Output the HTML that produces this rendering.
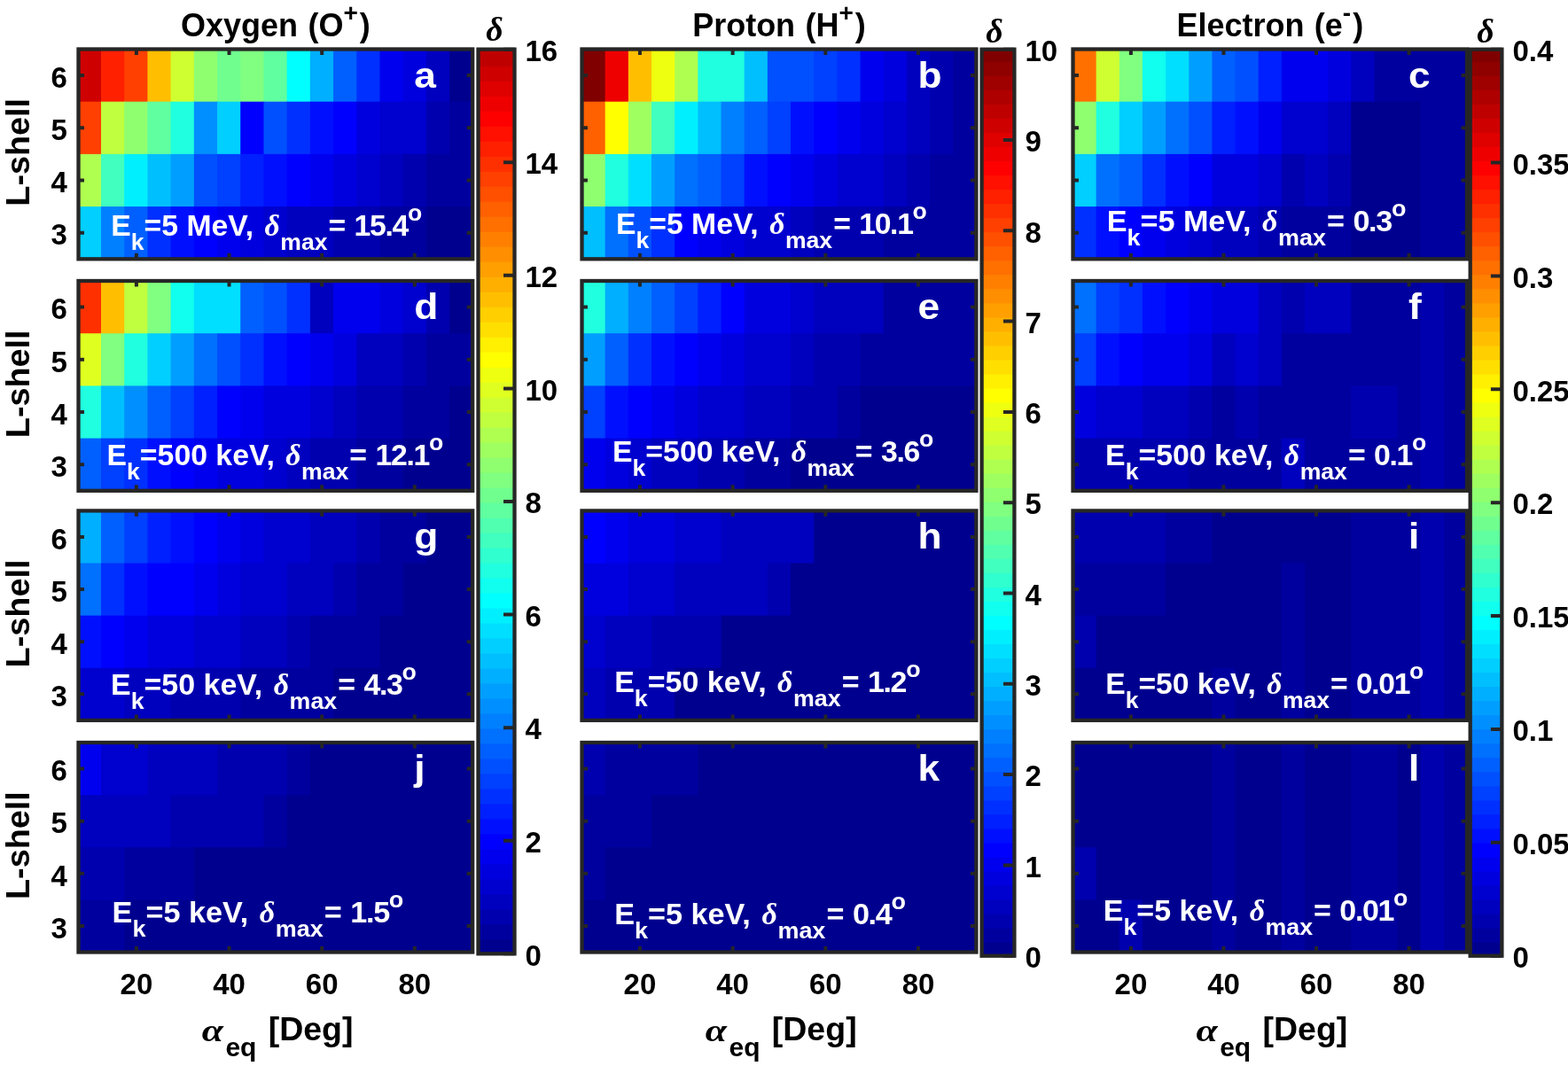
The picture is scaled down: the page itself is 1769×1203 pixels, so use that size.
<!DOCTYPE html><html><head><meta charset="utf-8"><style>html,body{margin:0;padding:0;background:#fff;}svg{display:block}text{font-family:"Liberation Sans",Arial,sans-serif;font-weight:bold;}.s{font-family:"Liberation Serif","Times New Roman",serif;font-style:italic;font-weight:bold;}</style></head><body>
<svg width="1769" height="1203" viewBox="0 0 1769 1203">
<rect width="1769" height="1203" fill="#fff"/>
<rect x="87.80" y="55.50" width="27.21" height="60.20" fill="#cf0000"/><rect x="114.01" y="55.50" width="27.21" height="60.20" fill="#ff2000"/><rect x="140.21" y="55.50" width="27.21" height="60.20" fill="#ff4000"/><rect x="166.42" y="55.50" width="27.21" height="60.20" fill="#ffbf00"/><rect x="192.62" y="55.50" width="27.21" height="60.20" fill="#cfff30"/><rect x="218.83" y="55.50" width="27.21" height="60.20" fill="#8fff70"/><rect x="245.04" y="55.50" width="27.21" height="60.20" fill="#70ff8f"/><rect x="271.24" y="55.50" width="27.21" height="60.20" fill="#80ff80"/><rect x="297.45" y="55.50" width="27.21" height="60.20" fill="#60ff9f"/><rect x="323.65" y="55.50" width="27.21" height="60.20" fill="#00ffff"/><rect x="349.86" y="55.50" width="27.21" height="60.20" fill="#00afff"/><rect x="376.06" y="55.50" width="27.21" height="60.20" fill="#0060ff"/><rect x="402.27" y="55.50" width="27.21" height="60.20" fill="#0030ff"/><rect x="428.48" y="55.50" width="27.21" height="60.20" fill="#0000ef"/><rect x="454.68" y="55.50" width="27.21" height="60.20" fill="#0000df"/><rect x="480.89" y="55.50" width="27.21" height="60.20" fill="#0000bf"/><rect x="507.09" y="55.50" width="27.21" height="60.20" fill="#00008f"/><rect x="87.80" y="114.70" width="27.21" height="60.20" fill="#ff4000"/><rect x="114.01" y="114.70" width="27.21" height="60.20" fill="#bfff40"/><rect x="140.21" y="114.70" width="27.21" height="60.20" fill="#8fff70"/><rect x="166.42" y="114.70" width="27.21" height="60.20" fill="#60ff9f"/><rect x="192.62" y="114.70" width="27.21" height="60.20" fill="#20ffdf"/><rect x="218.83" y="114.70" width="27.21" height="60.20" fill="#008fff"/><rect x="245.04" y="114.70" width="27.21" height="60.20" fill="#00cfff"/><rect x="271.24" y="114.70" width="27.21" height="60.20" fill="#0000ff"/><rect x="297.45" y="114.70" width="27.21" height="60.20" fill="#0050ff"/><rect x="323.65" y="114.70" width="27.21" height="60.20" fill="#0030ff"/><rect x="349.86" y="114.70" width="27.21" height="60.20" fill="#0010ff"/><rect x="376.06" y="114.70" width="27.21" height="60.20" fill="#0000ff"/><rect x="402.27" y="114.70" width="27.21" height="60.20" fill="#0000df"/><rect x="428.48" y="114.70" width="53.41" height="60.20" fill="#0000cf"/><rect x="480.89" y="114.70" width="27.21" height="60.20" fill="#0000af"/><rect x="507.09" y="114.70" width="27.21" height="60.20" fill="#00009f"/><rect x="87.80" y="173.90" width="27.21" height="60.20" fill="#afff50"/><rect x="114.01" y="173.90" width="27.21" height="60.20" fill="#40ffbf"/><rect x="140.21" y="173.90" width="27.21" height="60.20" fill="#00efff"/><rect x="166.42" y="173.90" width="27.21" height="60.20" fill="#00bfff"/><rect x="192.62" y="173.90" width="27.21" height="60.20" fill="#009fff"/><rect x="218.83" y="173.90" width="27.21" height="60.20" fill="#0050ff"/><rect x="245.04" y="173.90" width="27.21" height="60.20" fill="#0040ff"/><rect x="271.24" y="173.90" width="27.21" height="60.20" fill="#0020ff"/><rect x="297.45" y="173.90" width="27.21" height="60.20" fill="#0010ff"/><rect x="323.65" y="173.90" width="27.21" height="60.20" fill="#0000ff"/><rect x="349.86" y="173.90" width="27.21" height="60.20" fill="#0000ef"/><rect x="376.06" y="173.90" width="27.21" height="60.20" fill="#0000df"/><rect x="402.27" y="173.90" width="27.21" height="60.20" fill="#0000cf"/><rect x="428.48" y="173.90" width="27.21" height="60.20" fill="#0000bf"/><rect x="454.68" y="173.90" width="27.21" height="60.20" fill="#0000af"/><rect x="480.89" y="173.90" width="53.41" height="60.20" fill="#00009f"/><rect x="87.80" y="233.10" width="27.21" height="60.20" fill="#00cfff"/><rect x="114.01" y="233.10" width="27.21" height="60.20" fill="#0080ff"/><rect x="140.21" y="233.10" width="27.21" height="60.20" fill="#0060ff"/><rect x="166.42" y="233.10" width="27.21" height="60.20" fill="#0030ff"/><rect x="192.62" y="233.10" width="27.21" height="60.20" fill="#0010ff"/><rect x="218.83" y="233.10" width="27.21" height="60.20" fill="#0000ff"/><rect x="245.04" y="233.10" width="27.21" height="60.20" fill="#0000ef"/><rect x="271.24" y="233.10" width="27.21" height="60.20" fill="#0000df"/><rect x="297.45" y="233.10" width="27.21" height="60.20" fill="#0000cf"/><rect x="323.65" y="233.10" width="53.41" height="60.20" fill="#0000bf"/><rect x="376.06" y="233.10" width="53.41" height="60.20" fill="#0000af"/><rect x="428.48" y="233.10" width="53.41" height="60.20" fill="#00009f"/><rect x="480.89" y="233.10" width="53.41" height="60.20" fill="#00008f"/>
<path d="M153.90 55.50v6.45M153.90 292.30v-6.45M258.53 55.50v6.45M258.53 292.30v-6.45M363.17 55.50v6.45M363.17 292.30v-6.45M467.80 292.30v-6.45M88.50 262.70h6.45M533.20 262.70h-6.45M88.50 203.50h6.45M533.20 203.50h-6.45M88.50 144.30h6.45M533.20 144.30h-6.45M88.50 85.10h6.45M533.20 85.10h-6.45" stroke="#262626" stroke-width="4" fill="none"/>
<rect x="88.5" y="55.5" width="444.70" height="236.80" fill="none" stroke="#262626" stroke-width="4.3"/>
<rect x="656.50" y="55.50" width="27.17" height="60.20" fill="#800000"/><rect x="682.67" y="55.50" width="27.17" height="60.20" fill="#ef0000"/><rect x="708.84" y="55.50" width="27.17" height="60.20" fill="#ffbf00"/><rect x="735.01" y="55.50" width="27.17" height="60.20" fill="#efff10"/><rect x="761.18" y="55.50" width="27.17" height="60.20" fill="#afff50"/><rect x="787.35" y="55.50" width="53.34" height="60.20" fill="#20ffdf"/><rect x="839.69" y="55.50" width="27.17" height="60.20" fill="#00bfff"/><rect x="865.86" y="55.50" width="53.34" height="60.20" fill="#0050ff"/><rect x="918.21" y="55.50" width="27.17" height="60.20" fill="#0040ff"/><rect x="944.38" y="55.50" width="27.17" height="60.20" fill="#0030ff"/><rect x="970.55" y="55.50" width="27.17" height="60.20" fill="#0000ef"/><rect x="996.72" y="55.50" width="27.17" height="60.20" fill="#0000df"/><rect x="1022.89" y="55.50" width="27.17" height="60.20" fill="#0000bf"/><rect x="1049.06" y="55.50" width="27.17" height="60.20" fill="#0000af"/><rect x="1075.23" y="55.50" width="27.17" height="60.20" fill="#00009f"/><rect x="656.50" y="114.70" width="27.17" height="60.20" fill="#ff6000"/><rect x="682.67" y="114.70" width="27.17" height="60.20" fill="#ffff00"/><rect x="708.84" y="114.70" width="27.17" height="60.20" fill="#9fff60"/><rect x="735.01" y="114.70" width="27.17" height="60.20" fill="#40ffbf"/><rect x="761.18" y="114.70" width="27.17" height="60.20" fill="#00efff"/><rect x="787.35" y="114.70" width="27.17" height="60.20" fill="#00bfff"/><rect x="813.52" y="114.70" width="27.17" height="60.20" fill="#0080ff"/><rect x="839.69" y="114.70" width="27.17" height="60.20" fill="#0060ff"/><rect x="865.86" y="114.70" width="27.17" height="60.20" fill="#0040ff"/><rect x="892.04" y="114.70" width="27.17" height="60.20" fill="#0010ff"/><rect x="918.21" y="114.70" width="27.17" height="60.20" fill="#0000ff"/><rect x="944.38" y="114.70" width="27.17" height="60.20" fill="#0000ef"/><rect x="970.55" y="114.70" width="27.17" height="60.20" fill="#0000df"/><rect x="996.72" y="114.70" width="27.17" height="60.20" fill="#0000cf"/><rect x="1022.89" y="114.70" width="27.17" height="60.20" fill="#0000bf"/><rect x="1049.06" y="114.70" width="27.17" height="60.20" fill="#0000af"/><rect x="1075.23" y="114.70" width="27.17" height="60.20" fill="#00009f"/><rect x="656.50" y="173.90" width="27.17" height="60.20" fill="#8fff70"/><rect x="682.67" y="173.90" width="27.17" height="60.20" fill="#20ffdf"/><rect x="708.84" y="173.90" width="27.17" height="60.20" fill="#00dfff"/><rect x="735.01" y="173.90" width="27.17" height="60.20" fill="#009fff"/><rect x="761.18" y="173.90" width="27.17" height="60.20" fill="#0070ff"/><rect x="787.35" y="173.90" width="27.17" height="60.20" fill="#0060ff"/><rect x="813.52" y="173.90" width="27.17" height="60.20" fill="#0040ff"/><rect x="839.69" y="173.90" width="27.17" height="60.20" fill="#0010ff"/><rect x="865.86" y="173.90" width="27.17" height="60.20" fill="#0000ff"/><rect x="892.04" y="173.90" width="27.17" height="60.20" fill="#0000ef"/><rect x="918.21" y="173.90" width="27.17" height="60.20" fill="#0000df"/><rect x="944.38" y="173.90" width="53.34" height="60.20" fill="#0000cf"/><rect x="996.72" y="173.90" width="27.17" height="60.20" fill="#0000bf"/><rect x="1022.89" y="173.90" width="27.17" height="60.20" fill="#0000af"/><rect x="1049.06" y="173.90" width="53.34" height="60.20" fill="#00009f"/><rect x="656.50" y="233.10" width="27.17" height="60.20" fill="#00bfff"/><rect x="682.67" y="233.10" width="27.17" height="60.20" fill="#0070ff"/><rect x="708.84" y="233.10" width="27.17" height="60.20" fill="#0050ff"/><rect x="735.01" y="233.10" width="27.17" height="60.20" fill="#0030ff"/><rect x="761.18" y="233.10" width="27.17" height="60.20" fill="#0000ff"/><rect x="787.35" y="233.10" width="27.17" height="60.20" fill="#0000ef"/><rect x="813.52" y="233.10" width="27.17" height="60.20" fill="#0000df"/><rect x="839.69" y="233.10" width="53.34" height="60.20" fill="#0000cf"/><rect x="892.04" y="233.10" width="27.17" height="60.20" fill="#0000bf"/><rect x="918.21" y="233.10" width="79.51" height="60.20" fill="#0000af"/><rect x="996.72" y="233.10" width="105.68" height="60.20" fill="#00009f"/>
<path d="M721.93 55.50v6.45M721.93 292.30v-6.45M826.61 55.50v6.45M826.61 292.30v-6.45M931.29 55.50v6.45M931.29 292.30v-6.45M1035.97 55.50v6.45M1035.97 292.30v-6.45M656.50 262.70h6.45M1101.40 262.70h-6.45M656.50 203.50h6.45M1101.40 203.50h-6.45M656.50 144.30h6.45M1101.40 144.30h-6.45M656.50 85.10h6.45M1101.40 85.10h-6.45" stroke="#262626" stroke-width="4" fill="none"/>
<rect x="656.5" y="55.5" width="444.90" height="236.80" fill="none" stroke="#262626" stroke-width="4.3"/>
<rect x="1210.50" y="55.50" width="27.15" height="60.20" fill="#ff7000"/><rect x="1236.65" y="55.50" width="27.15" height="60.20" fill="#cfff30"/><rect x="1262.79" y="55.50" width="27.15" height="60.20" fill="#80ff80"/><rect x="1288.94" y="55.50" width="27.15" height="60.20" fill="#10ffef"/><rect x="1315.09" y="55.50" width="27.15" height="60.20" fill="#00dfff"/><rect x="1341.24" y="55.50" width="27.15" height="60.20" fill="#009fff"/><rect x="1367.38" y="55.50" width="27.15" height="60.20" fill="#0060ff"/><rect x="1393.53" y="55.50" width="27.15" height="60.20" fill="#0050ff"/><rect x="1419.68" y="55.50" width="27.15" height="60.20" fill="#0020ff"/><rect x="1445.82" y="55.50" width="53.29" height="60.20" fill="#0000ef"/><rect x="1498.12" y="55.50" width="27.15" height="60.20" fill="#0000df"/><rect x="1524.26" y="55.50" width="27.15" height="60.20" fill="#0000bf"/><rect x="1550.41" y="55.50" width="105.59" height="60.20" fill="#00009f"/><rect x="1210.50" y="114.70" width="27.15" height="60.20" fill="#8fff70"/><rect x="1236.65" y="114.70" width="27.15" height="60.20" fill="#20ffdf"/><rect x="1262.79" y="114.70" width="27.15" height="60.20" fill="#00cfff"/><rect x="1288.94" y="114.70" width="27.15" height="60.20" fill="#009fff"/><rect x="1315.09" y="114.70" width="27.15" height="60.20" fill="#0070ff"/><rect x="1341.24" y="114.70" width="27.15" height="60.20" fill="#0050ff"/><rect x="1367.38" y="114.70" width="27.15" height="60.20" fill="#0020ff"/><rect x="1393.53" y="114.70" width="27.15" height="60.20" fill="#0010ff"/><rect x="1419.68" y="114.70" width="27.15" height="60.20" fill="#0000ef"/><rect x="1445.82" y="114.70" width="53.29" height="60.20" fill="#0000cf"/><rect x="1498.12" y="114.70" width="27.15" height="60.20" fill="#0000bf"/><rect x="1524.26" y="114.70" width="79.44" height="60.20" fill="#00008f"/><rect x="1602.71" y="114.70" width="53.29" height="60.20" fill="#00009f"/><rect x="1210.50" y="173.90" width="27.15" height="60.20" fill="#00cfff"/><rect x="1236.65" y="173.90" width="27.15" height="60.20" fill="#0070ff"/><rect x="1262.79" y="173.90" width="27.15" height="60.20" fill="#0060ff"/><rect x="1288.94" y="173.90" width="27.15" height="60.20" fill="#0030ff"/><rect x="1315.09" y="173.90" width="27.15" height="60.20" fill="#0010ff"/><rect x="1341.24" y="173.90" width="27.15" height="60.20" fill="#0000ff"/><rect x="1367.38" y="173.90" width="53.29" height="60.20" fill="#0000df"/><rect x="1419.68" y="173.90" width="27.15" height="60.20" fill="#0000cf"/><rect x="1445.82" y="173.90" width="27.15" height="60.20" fill="#0000af"/><rect x="1471.97" y="173.90" width="27.15" height="60.20" fill="#0000bf"/><rect x="1498.12" y="173.90" width="27.15" height="60.20" fill="#0000af"/><rect x="1524.26" y="173.90" width="79.44" height="60.20" fill="#00008f"/><rect x="1602.71" y="173.90" width="53.29" height="60.20" fill="#00009f"/><rect x="1210.50" y="233.10" width="27.15" height="60.20" fill="#0030ff"/><rect x="1236.65" y="233.10" width="27.15" height="60.20" fill="#0010ff"/><rect x="1262.79" y="233.10" width="27.15" height="60.20" fill="#0000ff"/><rect x="1288.94" y="233.10" width="27.15" height="60.20" fill="#0000ef"/><rect x="1315.09" y="233.10" width="27.15" height="60.20" fill="#0000df"/><rect x="1341.24" y="233.10" width="27.15" height="60.20" fill="#0000cf"/><rect x="1367.38" y="233.10" width="53.29" height="60.20" fill="#0000bf"/><rect x="1419.68" y="233.10" width="27.15" height="60.20" fill="#0000af"/><rect x="1445.82" y="233.10" width="79.44" height="60.20" fill="#00009f"/><rect x="1524.26" y="233.10" width="79.44" height="60.20" fill="#00008f"/><rect x="1602.71" y="233.10" width="53.29" height="60.20" fill="#00009f"/>
<path d="M1275.87 55.50v6.45M1275.87 292.30v-6.45M1380.46 55.50v6.45M1380.46 292.30v-6.45M1485.04 55.50v6.45M1485.04 292.30v-6.45M1589.63 55.50v6.45M1589.63 292.30v-6.45M1210.50 262.70h6.45M1655.00 262.70h-6.45M1210.50 203.50h6.45M1655.00 203.50h-6.45M1210.50 144.30h6.45M1655.00 144.30h-6.45M1210.50 85.10h6.45M1655.00 85.10h-6.45" stroke="#262626" stroke-width="4" fill="none"/>
<rect x="1210.5" y="55.5" width="444.50" height="236.80" fill="none" stroke="#262626" stroke-width="4.3"/>
<rect x="87.80" y="317.00" width="27.21" height="60.20" fill="#ff3000"/><rect x="114.01" y="317.00" width="27.21" height="60.20" fill="#ffbf00"/><rect x="140.21" y="317.00" width="27.21" height="60.20" fill="#bfff40"/><rect x="166.42" y="317.00" width="27.21" height="60.20" fill="#80ff80"/><rect x="192.62" y="317.00" width="27.21" height="60.20" fill="#10ffef"/><rect x="218.83" y="317.00" width="53.41" height="60.20" fill="#00dfff"/><rect x="271.24" y="317.00" width="27.21" height="60.20" fill="#0060ff"/><rect x="297.45" y="317.00" width="27.21" height="60.20" fill="#0050ff"/><rect x="323.65" y="317.00" width="27.21" height="60.20" fill="#0030ff"/><rect x="349.86" y="317.00" width="27.21" height="60.20" fill="#0000bf"/><rect x="376.06" y="317.00" width="53.41" height="60.20" fill="#0000ef"/><rect x="428.48" y="317.00" width="27.21" height="60.20" fill="#0000df"/><rect x="454.68" y="317.00" width="27.21" height="60.20" fill="#0000cf"/><rect x="480.89" y="317.00" width="27.21" height="60.20" fill="#0000af"/><rect x="507.09" y="317.00" width="27.21" height="60.20" fill="#00008f"/><rect x="87.80" y="376.20" width="27.21" height="60.20" fill="#dfff20"/><rect x="114.01" y="376.20" width="27.21" height="60.20" fill="#80ff80"/><rect x="140.21" y="376.20" width="27.21" height="60.20" fill="#20ffdf"/><rect x="166.42" y="376.20" width="27.21" height="60.20" fill="#00cfff"/><rect x="192.62" y="376.20" width="27.21" height="60.20" fill="#009fff"/><rect x="218.83" y="376.20" width="27.21" height="60.20" fill="#0070ff"/><rect x="245.04" y="376.20" width="27.21" height="60.20" fill="#0050ff"/><rect x="271.24" y="376.20" width="27.21" height="60.20" fill="#0030ff"/><rect x="297.45" y="376.20" width="27.21" height="60.20" fill="#0010ff"/><rect x="323.65" y="376.20" width="27.21" height="60.20" fill="#0000ff"/><rect x="349.86" y="376.20" width="27.21" height="60.20" fill="#0000ef"/><rect x="376.06" y="376.20" width="27.21" height="60.20" fill="#0000df"/><rect x="402.27" y="376.20" width="53.41" height="60.20" fill="#0000bf"/><rect x="454.68" y="376.20" width="27.21" height="60.20" fill="#0000af"/><rect x="480.89" y="376.20" width="53.41" height="60.20" fill="#00009f"/><rect x="87.80" y="435.40" width="27.21" height="60.20" fill="#20ffdf"/><rect x="114.01" y="435.40" width="27.21" height="60.20" fill="#00bfff"/><rect x="140.21" y="435.40" width="27.21" height="60.20" fill="#008fff"/><rect x="166.42" y="435.40" width="27.21" height="60.20" fill="#0060ff"/><rect x="192.62" y="435.40" width="27.21" height="60.20" fill="#0040ff"/><rect x="218.83" y="435.40" width="27.21" height="60.20" fill="#0020ff"/><rect x="245.04" y="435.40" width="27.21" height="60.20" fill="#0000ff"/><rect x="271.24" y="435.40" width="27.21" height="60.20" fill="#0000ef"/><rect x="297.45" y="435.40" width="53.41" height="60.20" fill="#0000df"/><rect x="349.86" y="435.40" width="27.21" height="60.20" fill="#0000cf"/><rect x="376.06" y="435.40" width="27.21" height="60.20" fill="#0000bf"/><rect x="402.27" y="435.40" width="53.41" height="60.20" fill="#0000af"/><rect x="454.68" y="435.40" width="53.41" height="60.20" fill="#00009f"/><rect x="507.09" y="435.40" width="27.21" height="60.20" fill="#00008f"/><rect x="87.80" y="494.60" width="27.21" height="60.20" fill="#0060ff"/><rect x="114.01" y="494.60" width="27.21" height="60.20" fill="#0040ff"/><rect x="140.21" y="494.60" width="27.21" height="60.20" fill="#0030ff"/><rect x="166.42" y="494.60" width="27.21" height="60.20" fill="#0010ff"/><rect x="192.62" y="494.60" width="27.21" height="60.20" fill="#0000ff"/><rect x="218.83" y="494.60" width="27.21" height="60.20" fill="#0000ef"/><rect x="245.04" y="494.60" width="53.41" height="60.20" fill="#0000df"/><rect x="297.45" y="494.60" width="27.21" height="60.20" fill="#0000cf"/><rect x="323.65" y="494.60" width="27.21" height="60.20" fill="#0000bf"/><rect x="349.86" y="494.60" width="53.41" height="60.20" fill="#0000af"/><rect x="402.27" y="494.60" width="53.41" height="60.20" fill="#00009f"/><rect x="454.68" y="494.60" width="79.62" height="60.20" fill="#00008f"/>
<path d="M153.90 317.00v6.45M153.90 553.80v-6.45M258.53 317.00v6.45M258.53 553.80v-6.45M363.17 317.00v6.45M363.17 553.80v-6.45M467.80 317.00v6.45M467.80 553.80v-6.45M88.50 524.20h6.45M533.20 524.20h-6.45M88.50 465.00h6.45M533.20 465.00h-6.45M88.50 405.80h6.45M533.20 405.80h-6.45M88.50 346.60h6.45M533.20 346.60h-6.45" stroke="#262626" stroke-width="4" fill="none"/>
<rect x="88.5" y="317.0" width="444.70" height="236.80" fill="none" stroke="#262626" stroke-width="4.3"/>
<rect x="656.50" y="317.00" width="27.17" height="60.20" fill="#20ffdf"/><rect x="682.67" y="317.00" width="27.17" height="60.20" fill="#00afff"/><rect x="708.84" y="317.00" width="27.17" height="60.20" fill="#0080ff"/><rect x="735.01" y="317.00" width="27.17" height="60.20" fill="#0060ff"/><rect x="761.18" y="317.00" width="27.17" height="60.20" fill="#0040ff"/><rect x="787.35" y="317.00" width="27.17" height="60.20" fill="#0020ff"/><rect x="813.52" y="317.00" width="27.17" height="60.20" fill="#0000ff"/><rect x="839.69" y="317.00" width="53.34" height="60.20" fill="#0000df"/><rect x="892.04" y="317.00" width="27.17" height="60.20" fill="#0000cf"/><rect x="918.21" y="317.00" width="79.51" height="60.20" fill="#0000bf"/><rect x="996.72" y="317.00" width="105.68" height="60.20" fill="#00009f"/><rect x="656.50" y="376.20" width="27.17" height="60.20" fill="#009fff"/><rect x="682.67" y="376.20" width="27.17" height="60.20" fill="#0060ff"/><rect x="708.84" y="376.20" width="27.17" height="60.20" fill="#0030ff"/><rect x="735.01" y="376.20" width="27.17" height="60.20" fill="#0010ff"/><rect x="761.18" y="376.20" width="27.17" height="60.20" fill="#0000ff"/><rect x="787.35" y="376.20" width="27.17" height="60.20" fill="#0000ef"/><rect x="813.52" y="376.20" width="27.17" height="60.20" fill="#0000df"/><rect x="839.69" y="376.20" width="53.34" height="60.20" fill="#0000cf"/><rect x="892.04" y="376.20" width="27.17" height="60.20" fill="#0000bf"/><rect x="918.21" y="376.20" width="53.34" height="60.20" fill="#0000af"/><rect x="970.55" y="376.20" width="131.85" height="60.20" fill="#00009f"/><rect x="656.50" y="435.40" width="27.17" height="60.20" fill="#0040ff"/><rect x="682.67" y="435.40" width="27.17" height="60.20" fill="#0010ff"/><rect x="708.84" y="435.40" width="27.17" height="60.20" fill="#0000ff"/><rect x="735.01" y="435.40" width="27.17" height="60.20" fill="#0000ef"/><rect x="761.18" y="435.40" width="27.17" height="60.20" fill="#0000df"/><rect x="787.35" y="435.40" width="53.34" height="60.20" fill="#0000cf"/><rect x="839.69" y="435.40" width="53.34" height="60.20" fill="#0000bf"/><rect x="892.04" y="435.40" width="53.34" height="60.20" fill="#0000af"/><rect x="944.38" y="435.40" width="27.17" height="60.20" fill="#00009f"/><rect x="970.55" y="435.40" width="131.85" height="60.20" fill="#00008f"/><rect x="656.50" y="494.60" width="27.17" height="60.20" fill="#0000ef"/><rect x="682.67" y="494.60" width="27.17" height="60.20" fill="#0000df"/><rect x="708.84" y="494.60" width="27.17" height="60.20" fill="#0000cf"/><rect x="735.01" y="494.60" width="53.34" height="60.20" fill="#0000bf"/><rect x="787.35" y="494.60" width="53.34" height="60.20" fill="#0000af"/><rect x="839.69" y="494.60" width="53.34" height="60.20" fill="#00009f"/><rect x="892.04" y="494.60" width="210.36" height="60.20" fill="#00008f"/>
<path d="M721.93 317.00v6.45M721.93 553.80v-6.45M826.61 317.00v6.45M826.61 553.80v-6.45M931.29 317.00v6.45M931.29 553.80v-6.45M1035.97 317.00v6.45M1035.97 553.80v-6.45M656.50 524.20h6.45M1101.40 524.20h-6.45M656.50 465.00h6.45M1101.40 465.00h-6.45M656.50 405.80h6.45M1101.40 405.80h-6.45M656.50 346.60h6.45M1101.40 346.60h-6.45" stroke="#262626" stroke-width="4" fill="none"/>
<rect x="656.5" y="317.0" width="444.90" height="236.80" fill="none" stroke="#262626" stroke-width="4.3"/>
<rect x="1210.50" y="317.00" width="27.15" height="60.20" fill="#0070ff"/><rect x="1236.65" y="317.00" width="27.15" height="60.20" fill="#0040ff"/><rect x="1262.79" y="317.00" width="27.15" height="60.20" fill="#0030ff"/><rect x="1288.94" y="317.00" width="27.15" height="60.20" fill="#0010ff"/><rect x="1315.09" y="317.00" width="27.15" height="60.20" fill="#0000ff"/><rect x="1341.24" y="317.00" width="27.15" height="60.20" fill="#0000ef"/><rect x="1367.38" y="317.00" width="53.29" height="60.20" fill="#0000df"/><rect x="1419.68" y="317.00" width="27.15" height="60.20" fill="#0000bf"/><rect x="1445.82" y="317.00" width="27.15" height="60.20" fill="#0000af"/><rect x="1471.97" y="317.00" width="53.29" height="60.20" fill="#0000bf"/><rect x="1524.26" y="317.00" width="79.44" height="60.20" fill="#00009f"/><rect x="1602.71" y="317.00" width="27.15" height="60.20" fill="#0000af"/><rect x="1628.85" y="317.00" width="27.15" height="60.20" fill="#00009f"/><rect x="1210.50" y="376.20" width="27.15" height="60.20" fill="#0040ff"/><rect x="1236.65" y="376.20" width="27.15" height="60.20" fill="#0010ff"/><rect x="1262.79" y="376.20" width="27.15" height="60.20" fill="#0000ff"/><rect x="1288.94" y="376.20" width="53.29" height="60.20" fill="#0000ef"/><rect x="1341.24" y="376.20" width="27.15" height="60.20" fill="#0000df"/><rect x="1367.38" y="376.20" width="27.15" height="60.20" fill="#0000bf"/><rect x="1393.53" y="376.20" width="27.15" height="60.20" fill="#0000cf"/><rect x="1419.68" y="376.20" width="27.15" height="60.20" fill="#0000bf"/><rect x="1445.82" y="376.20" width="157.88" height="60.20" fill="#00009f"/><rect x="1602.71" y="376.20" width="27.15" height="60.20" fill="#0000af"/><rect x="1628.85" y="376.20" width="27.15" height="60.20" fill="#00009f"/><rect x="1210.50" y="435.40" width="27.15" height="60.20" fill="#0000df"/><rect x="1236.65" y="435.40" width="53.29" height="60.20" fill="#0000cf"/><rect x="1288.94" y="435.40" width="53.29" height="60.20" fill="#0000bf"/><rect x="1341.24" y="435.40" width="27.15" height="60.20" fill="#0000af"/><rect x="1367.38" y="435.40" width="27.15" height="60.20" fill="#00009f"/><rect x="1393.53" y="435.40" width="27.15" height="60.20" fill="#0000af"/><rect x="1419.68" y="435.40" width="105.59" height="60.20" fill="#00009f"/><rect x="1524.26" y="435.40" width="53.29" height="60.20" fill="#0000af"/><rect x="1576.56" y="435.40" width="27.15" height="60.20" fill="#00009f"/><rect x="1602.71" y="435.40" width="27.15" height="60.20" fill="#0000af"/><rect x="1628.85" y="435.40" width="27.15" height="60.20" fill="#00009f"/><rect x="1210.50" y="494.60" width="131.74" height="60.20" fill="#0000af"/><rect x="1341.24" y="494.60" width="105.59" height="60.20" fill="#00009f"/><rect x="1445.82" y="494.60" width="27.15" height="60.20" fill="#0000bf"/><rect x="1471.97" y="494.60" width="131.74" height="60.20" fill="#00009f"/><rect x="1602.71" y="494.60" width="27.15" height="60.20" fill="#0000af"/><rect x="1628.85" y="494.60" width="27.15" height="60.20" fill="#00009f"/>
<path d="M1275.87 317.00v6.45M1275.87 553.80v-6.45M1380.46 317.00v6.45M1380.46 553.80v-6.45M1485.04 317.00v6.45M1485.04 553.80v-6.45M1589.63 317.00v6.45M1589.63 553.80v-6.45M1210.50 524.20h6.45M1655.00 524.20h-6.45M1210.50 465.00h6.45M1655.00 465.00h-6.45M1210.50 405.80h6.45M1655.00 405.80h-6.45M1210.50 346.60h6.45M1655.00 346.60h-6.45" stroke="#262626" stroke-width="4" fill="none"/>
<rect x="1210.5" y="317.0" width="444.50" height="236.80" fill="none" stroke="#262626" stroke-width="4.3"/>
<rect x="87.80" y="576.40" width="27.21" height="60.12" fill="#00afff"/><rect x="114.01" y="576.40" width="27.21" height="60.12" fill="#0060ff"/><rect x="140.21" y="576.40" width="27.21" height="60.12" fill="#0040ff"/><rect x="166.42" y="576.40" width="27.21" height="60.12" fill="#0020ff"/><rect x="192.62" y="576.40" width="27.21" height="60.12" fill="#0010ff"/><rect x="218.83" y="576.40" width="27.21" height="60.12" fill="#0000ff"/><rect x="245.04" y="576.40" width="27.21" height="60.12" fill="#0000ef"/><rect x="271.24" y="576.40" width="27.21" height="60.12" fill="#0000df"/><rect x="297.45" y="576.40" width="53.41" height="60.12" fill="#0000cf"/><rect x="349.86" y="576.40" width="53.41" height="60.12" fill="#0000bf"/><rect x="402.27" y="576.40" width="27.21" height="60.12" fill="#0000af"/><rect x="428.48" y="576.40" width="53.41" height="60.12" fill="#00009f"/><rect x="480.89" y="576.40" width="53.41" height="60.12" fill="#00008f"/><rect x="87.80" y="635.52" width="27.21" height="60.12" fill="#0070ff"/><rect x="114.01" y="635.52" width="27.21" height="60.12" fill="#0030ff"/><rect x="140.21" y="635.52" width="27.21" height="60.12" fill="#0010ff"/><rect x="166.42" y="635.52" width="53.41" height="60.12" fill="#0000ff"/><rect x="218.83" y="635.52" width="27.21" height="60.12" fill="#0000ef"/><rect x="245.04" y="635.52" width="27.21" height="60.12" fill="#0000df"/><rect x="271.24" y="635.52" width="53.41" height="60.12" fill="#0000cf"/><rect x="323.65" y="635.52" width="53.41" height="60.12" fill="#0000bf"/><rect x="376.06" y="635.52" width="27.21" height="60.12" fill="#0000af"/><rect x="402.27" y="635.52" width="53.41" height="60.12" fill="#00009f"/><rect x="454.68" y="635.52" width="79.62" height="60.12" fill="#00008f"/><rect x="87.80" y="694.65" width="27.21" height="60.12" fill="#0010ff"/><rect x="114.01" y="694.65" width="27.21" height="60.12" fill="#0000ff"/><rect x="140.21" y="694.65" width="27.21" height="60.12" fill="#0000ef"/><rect x="166.42" y="694.65" width="53.41" height="60.12" fill="#0000df"/><rect x="218.83" y="694.65" width="53.41" height="60.12" fill="#0000cf"/><rect x="271.24" y="694.65" width="53.41" height="60.12" fill="#0000bf"/><rect x="323.65" y="694.65" width="27.21" height="60.12" fill="#0000af"/><rect x="349.86" y="694.65" width="79.62" height="60.12" fill="#00009f"/><rect x="428.48" y="694.65" width="105.82" height="60.12" fill="#00008f"/><rect x="87.80" y="753.77" width="53.41" height="60.12" fill="#0000cf"/><rect x="140.21" y="753.77" width="53.41" height="60.12" fill="#0000bf"/><rect x="192.62" y="753.77" width="79.62" height="60.12" fill="#0000af"/><rect x="271.24" y="753.77" width="105.82" height="60.12" fill="#00009f"/><rect x="376.06" y="753.77" width="158.24" height="60.12" fill="#00008f"/>
<path d="M153.90 576.40v6.45M153.90 812.90v-6.45M258.53 576.40v6.45M258.53 812.90v-6.45M363.17 576.40v6.45M363.17 812.90v-6.45M467.80 576.40v6.45M467.80 812.90v-6.45M88.50 783.34h6.45M533.20 783.34h-6.45M88.50 724.21h6.45M533.20 724.21h-6.45M88.50 665.09h6.45M533.20 665.09h-6.45M88.50 605.96h6.45M533.20 605.96h-6.45" stroke="#262626" stroke-width="4" fill="none"/>
<rect x="88.5" y="576.4" width="444.70" height="236.50" fill="none" stroke="#262626" stroke-width="4.3"/>
<rect x="656.50" y="576.40" width="27.17" height="60.12" fill="#0000ff"/><rect x="682.67" y="576.40" width="27.17" height="60.12" fill="#0000ef"/><rect x="708.84" y="576.40" width="53.34" height="60.12" fill="#0000df"/><rect x="761.18" y="576.40" width="53.34" height="60.12" fill="#0000cf"/><rect x="813.52" y="576.40" width="105.68" height="60.12" fill="#0000bf"/><rect x="918.21" y="576.40" width="184.19" height="60.12" fill="#00008f"/><rect x="656.50" y="635.52" width="53.34" height="60.12" fill="#0000df"/><rect x="708.84" y="635.52" width="53.34" height="60.12" fill="#0000cf"/><rect x="761.18" y="635.52" width="105.68" height="60.12" fill="#0000bf"/><rect x="865.86" y="635.52" width="27.17" height="60.12" fill="#0000af"/><rect x="892.04" y="635.52" width="210.36" height="60.12" fill="#00008f"/><rect x="656.50" y="694.65" width="27.17" height="60.12" fill="#0000cf"/><rect x="682.67" y="694.65" width="53.34" height="60.12" fill="#0000bf"/><rect x="735.01" y="694.65" width="79.51" height="60.12" fill="#0000af"/><rect x="813.52" y="694.65" width="288.88" height="60.12" fill="#00008f"/><rect x="656.50" y="753.77" width="27.17" height="60.12" fill="#0000bf"/><rect x="682.67" y="753.77" width="79.51" height="60.12" fill="#0000af"/><rect x="761.18" y="753.77" width="341.22" height="60.12" fill="#00008f"/>
<path d="M721.93 576.40v6.45M721.93 812.90v-6.45M826.61 576.40v6.45M826.61 812.90v-6.45M931.29 576.40v6.45M931.29 812.90v-6.45M1035.97 576.40v6.45M1035.97 812.90v-6.45M656.50 783.34h6.45M1101.40 783.34h-6.45M656.50 724.21h6.45M1101.40 724.21h-6.45M656.50 665.09h6.45M1101.40 665.09h-6.45M656.50 605.96h6.45M1101.40 605.96h-6.45" stroke="#262626" stroke-width="4" fill="none"/>
<rect x="656.5" y="576.4" width="444.90" height="236.50" fill="none" stroke="#262626" stroke-width="4.3"/>
<rect x="1210.50" y="576.40" width="105.59" height="60.12" fill="#0000af"/><rect x="1315.09" y="576.40" width="53.29" height="60.12" fill="#00009f"/><rect x="1367.38" y="576.40" width="157.88" height="60.12" fill="#00008f"/><rect x="1524.26" y="576.40" width="79.44" height="60.12" fill="#00009f"/><rect x="1602.71" y="576.40" width="27.15" height="60.12" fill="#0000af"/><rect x="1628.85" y="576.40" width="27.15" height="60.12" fill="#00009f"/><rect x="1210.50" y="635.52" width="105.59" height="60.12" fill="#00009f"/><rect x="1315.09" y="635.52" width="131.74" height="60.12" fill="#00008f"/><rect x="1445.82" y="635.52" width="27.15" height="60.12" fill="#00009f"/><rect x="1471.97" y="635.52" width="53.29" height="60.12" fill="#00008f"/><rect x="1524.26" y="635.52" width="79.44" height="60.12" fill="#00009f"/><rect x="1602.71" y="635.52" width="27.15" height="60.12" fill="#0000af"/><rect x="1628.85" y="635.52" width="27.15" height="60.12" fill="#00009f"/><rect x="1210.50" y="694.65" width="27.15" height="60.12" fill="#0000af"/><rect x="1236.65" y="694.65" width="210.18" height="60.12" fill="#00008f"/><rect x="1445.82" y="694.65" width="27.15" height="60.12" fill="#00009f"/><rect x="1471.97" y="694.65" width="53.29" height="60.12" fill="#00008f"/><rect x="1524.26" y="694.65" width="79.44" height="60.12" fill="#00009f"/><rect x="1602.71" y="694.65" width="27.15" height="60.12" fill="#0000af"/><rect x="1628.85" y="694.65" width="27.15" height="60.12" fill="#00009f"/><rect x="1210.50" y="753.77" width="157.88" height="60.12" fill="#00008f"/><rect x="1367.38" y="753.77" width="27.15" height="60.12" fill="#00009f"/><rect x="1393.53" y="753.77" width="53.29" height="60.12" fill="#00008f"/><rect x="1445.82" y="753.77" width="27.15" height="60.12" fill="#00009f"/><rect x="1471.97" y="753.77" width="53.29" height="60.12" fill="#00008f"/><rect x="1524.26" y="753.77" width="79.44" height="60.12" fill="#00009f"/><rect x="1602.71" y="753.77" width="27.15" height="60.12" fill="#0000af"/><rect x="1628.85" y="753.77" width="27.15" height="60.12" fill="#00009f"/>
<path d="M1275.87 576.40v6.45M1275.87 812.90v-6.45M1380.46 576.40v6.45M1380.46 812.90v-6.45M1485.04 576.40v6.45M1485.04 812.90v-6.45M1589.63 576.40v6.45M1589.63 812.90v-6.45M1210.50 783.34h6.45M1655.00 783.34h-6.45M1210.50 724.21h6.45M1655.00 724.21h-6.45M1210.50 665.09h6.45M1655.00 665.09h-6.45M1210.50 605.96h6.45M1655.00 605.96h-6.45" stroke="#262626" stroke-width="4" fill="none"/>
<rect x="1210.5" y="576.4" width="444.50" height="236.50" fill="none" stroke="#262626" stroke-width="4.3"/>
<rect x="87.80" y="838.00" width="27.21" height="60.12" fill="#0000ef"/><rect x="114.01" y="838.00" width="53.41" height="60.12" fill="#0000cf"/><rect x="166.42" y="838.00" width="79.62" height="60.12" fill="#0000bf"/><rect x="245.04" y="838.00" width="79.62" height="60.12" fill="#0000af"/><rect x="323.65" y="838.00" width="27.21" height="60.12" fill="#00009f"/><rect x="349.86" y="838.00" width="184.44" height="60.12" fill="#00008f"/><rect x="87.80" y="897.12" width="105.82" height="60.12" fill="#0000bf"/><rect x="192.62" y="897.12" width="105.82" height="60.12" fill="#0000af"/><rect x="297.45" y="897.12" width="27.21" height="60.12" fill="#00009f"/><rect x="323.65" y="897.12" width="210.65" height="60.12" fill="#00008f"/><rect x="87.80" y="956.25" width="53.41" height="60.12" fill="#0000af"/><rect x="140.21" y="956.25" width="79.62" height="60.12" fill="#00009f"/><rect x="218.83" y="956.25" width="315.47" height="60.12" fill="#00008f"/><rect x="87.80" y="1015.38" width="53.41" height="60.12" fill="#00009f"/><rect x="140.21" y="1015.38" width="394.09" height="60.12" fill="#00008f"/>
<path d="M153.90 838.00v6.45M153.90 1074.50v-6.45M258.53 838.00v6.45M258.53 1074.50v-6.45M363.17 838.00v6.45M363.17 1074.50v-6.45M467.80 838.00v6.45M467.80 1074.50v-6.45M88.50 1044.94h6.45M533.20 1044.94h-6.45M88.50 985.81h6.45M533.20 985.81h-6.45M88.50 926.69h6.45M533.20 926.69h-6.45M88.50 867.56h6.45M533.20 867.56h-6.45" stroke="#262626" stroke-width="4" fill="none"/>
<rect x="88.5" y="838.0" width="444.70" height="236.50" fill="none" stroke="#262626" stroke-width="4.3"/>
<rect x="656.50" y="838.00" width="27.17" height="60.12" fill="#0000af"/><rect x="682.67" y="838.00" width="105.68" height="60.12" fill="#00009f"/><rect x="787.35" y="838.00" width="315.05" height="60.12" fill="#00008f"/><rect x="656.50" y="897.12" width="79.51" height="60.12" fill="#00009f"/><rect x="735.01" y="897.12" width="367.39" height="60.12" fill="#00008f"/><rect x="656.50" y="956.25" width="27.17" height="60.12" fill="#00009f"/><rect x="682.67" y="956.25" width="419.73" height="60.12" fill="#00008f"/><rect x="656.50" y="1015.38" width="445.90" height="60.12" fill="#00008f"/>
<path d="M721.93 838.00v6.45M721.93 1074.50v-6.45M826.61 838.00v6.45M826.61 1074.50v-6.45M931.29 838.00v6.45M931.29 1074.50v-6.45M1035.97 838.00v6.45M1035.97 1074.50v-6.45M656.50 1044.94h6.45M1101.40 1044.94h-6.45M656.50 985.81h6.45M1101.40 985.81h-6.45M656.50 926.69h6.45M1101.40 926.69h-6.45M656.50 867.56h6.45M1101.40 867.56h-6.45" stroke="#262626" stroke-width="4" fill="none"/>
<rect x="656.5" y="838.0" width="444.90" height="236.50" fill="none" stroke="#262626" stroke-width="4.3"/>
<rect x="1210.50" y="838.00" width="157.88" height="60.12" fill="#00008f"/><rect x="1367.38" y="838.00" width="27.15" height="60.12" fill="#00009f"/><rect x="1393.53" y="838.00" width="53.29" height="60.12" fill="#00008f"/><rect x="1445.82" y="838.00" width="27.15" height="60.12" fill="#00009f"/><rect x="1471.97" y="838.00" width="53.29" height="60.12" fill="#00008f"/><rect x="1524.26" y="838.00" width="53.29" height="60.12" fill="#00009f"/><rect x="1576.56" y="838.00" width="27.15" height="60.12" fill="#00008f"/><rect x="1602.71" y="838.00" width="27.15" height="60.12" fill="#0000af"/><rect x="1628.85" y="838.00" width="27.15" height="60.12" fill="#00009f"/><rect x="1210.50" y="897.12" width="157.88" height="60.12" fill="#00008f"/><rect x="1367.38" y="897.12" width="27.15" height="60.12" fill="#00009f"/><rect x="1393.53" y="897.12" width="53.29" height="60.12" fill="#00008f"/><rect x="1445.82" y="897.12" width="27.15" height="60.12" fill="#00009f"/><rect x="1471.97" y="897.12" width="53.29" height="60.12" fill="#00008f"/><rect x="1524.26" y="897.12" width="53.29" height="60.12" fill="#00009f"/><rect x="1576.56" y="897.12" width="27.15" height="60.12" fill="#00008f"/><rect x="1602.71" y="897.12" width="27.15" height="60.12" fill="#0000af"/><rect x="1628.85" y="897.12" width="27.15" height="60.12" fill="#00009f"/><rect x="1210.50" y="956.25" width="27.15" height="60.12" fill="#0000af"/><rect x="1236.65" y="956.25" width="131.74" height="60.12" fill="#00008f"/><rect x="1367.38" y="956.25" width="27.15" height="60.12" fill="#00009f"/><rect x="1393.53" y="956.25" width="53.29" height="60.12" fill="#00008f"/><rect x="1445.82" y="956.25" width="27.15" height="60.12" fill="#00009f"/><rect x="1471.97" y="956.25" width="53.29" height="60.12" fill="#00008f"/><rect x="1524.26" y="956.25" width="53.29" height="60.12" fill="#00009f"/><rect x="1576.56" y="956.25" width="27.15" height="60.12" fill="#00008f"/><rect x="1602.71" y="956.25" width="27.15" height="60.12" fill="#0000af"/><rect x="1628.85" y="956.25" width="27.15" height="60.12" fill="#00009f"/><rect x="1210.50" y="1015.38" width="53.29" height="60.12" fill="#00008f"/><rect x="1262.79" y="1015.38" width="27.15" height="60.12" fill="#0000af"/><rect x="1288.94" y="1015.38" width="79.44" height="60.12" fill="#00008f"/><rect x="1367.38" y="1015.38" width="27.15" height="60.12" fill="#00009f"/><rect x="1393.53" y="1015.38" width="53.29" height="60.12" fill="#00008f"/><rect x="1445.82" y="1015.38" width="27.15" height="60.12" fill="#00009f"/><rect x="1471.97" y="1015.38" width="53.29" height="60.12" fill="#00008f"/><rect x="1524.26" y="1015.38" width="53.29" height="60.12" fill="#00009f"/><rect x="1576.56" y="1015.38" width="27.15" height="60.12" fill="#00008f"/><rect x="1602.71" y="1015.38" width="27.15" height="60.12" fill="#0000af"/><rect x="1628.85" y="1015.38" width="27.15" height="60.12" fill="#00009f"/>
<path d="M1275.87 838.00v6.45M1275.87 1074.50v-6.45M1380.46 838.00v6.45M1380.46 1074.50v-6.45M1485.04 838.00v6.45M1485.04 1074.50v-6.45M1589.63 838.00v6.45M1589.63 1074.50v-6.45M1210.50 1044.94h6.45M1655.00 1044.94h-6.45M1210.50 985.81h6.45M1655.00 985.81h-6.45M1210.50 926.69h6.45M1655.00 926.69h-6.45M1210.50 867.56h6.45M1655.00 867.56h-6.45" stroke="#262626" stroke-width="4" fill="none"/>
<rect x="1210.5" y="838.0" width="444.50" height="236.50" fill="none" stroke="#262626" stroke-width="4.3"/>
<rect x="539.5" y="1059.31" width="41.00" height="17.99" fill="#00008f"/><rect x="539.5" y="1042.32" width="41.00" height="17.99" fill="#00009f"/><rect x="539.5" y="1025.33" width="41.00" height="17.99" fill="#0000af"/><rect x="539.5" y="1008.34" width="41.00" height="17.99" fill="#0000bf"/><rect x="539.5" y="991.35" width="41.00" height="17.99" fill="#0000cf"/><rect x="539.5" y="974.36" width="41.00" height="17.99" fill="#0000df"/><rect x="539.5" y="957.37" width="41.00" height="17.99" fill="#0000ef"/><rect x="539.5" y="940.38" width="41.00" height="17.99" fill="#0000ff"/><rect x="539.5" y="923.39" width="41.00" height="17.99" fill="#0010ff"/><rect x="539.5" y="906.40" width="41.00" height="17.99" fill="#0020ff"/><rect x="539.5" y="889.41" width="41.00" height="17.99" fill="#0030ff"/><rect x="539.5" y="872.42" width="41.00" height="17.99" fill="#0040ff"/><rect x="539.5" y="855.43" width="41.00" height="17.99" fill="#0050ff"/><rect x="539.5" y="838.44" width="41.00" height="17.99" fill="#0060ff"/><rect x="539.5" y="821.45" width="41.00" height="17.99" fill="#0070ff"/><rect x="539.5" y="804.46" width="41.00" height="17.99" fill="#0080ff"/><rect x="539.5" y="787.47" width="41.00" height="17.99" fill="#008fff"/><rect x="539.5" y="770.48" width="41.00" height="17.99" fill="#009fff"/><rect x="539.5" y="753.49" width="41.00" height="17.99" fill="#00afff"/><rect x="539.5" y="736.50" width="41.00" height="17.99" fill="#00bfff"/><rect x="539.5" y="719.51" width="41.00" height="17.99" fill="#00cfff"/><rect x="539.5" y="702.52" width="41.00" height="17.99" fill="#00dfff"/><rect x="539.5" y="685.53" width="41.00" height="17.99" fill="#00efff"/><rect x="539.5" y="668.54" width="41.00" height="17.99" fill="#00ffff"/><rect x="539.5" y="651.55" width="41.00" height="17.99" fill="#10ffef"/><rect x="539.5" y="634.56" width="41.00" height="17.99" fill="#20ffdf"/><rect x="539.5" y="617.57" width="41.00" height="17.99" fill="#30ffcf"/><rect x="539.5" y="600.58" width="41.00" height="17.99" fill="#40ffbf"/><rect x="539.5" y="583.59" width="41.00" height="17.99" fill="#50ffaf"/><rect x="539.5" y="566.60" width="41.00" height="17.99" fill="#60ff9f"/><rect x="539.5" y="549.61" width="41.00" height="17.99" fill="#70ff8f"/><rect x="539.5" y="532.62" width="41.00" height="17.99" fill="#80ff80"/><rect x="539.5" y="515.63" width="41.00" height="17.99" fill="#8fff70"/><rect x="539.5" y="498.64" width="41.00" height="17.99" fill="#9fff60"/><rect x="539.5" y="481.65" width="41.00" height="17.99" fill="#afff50"/><rect x="539.5" y="464.66" width="41.00" height="17.99" fill="#bfff40"/><rect x="539.5" y="447.67" width="41.00" height="17.99" fill="#cfff30"/><rect x="539.5" y="430.68" width="41.00" height="17.99" fill="#dfff20"/><rect x="539.5" y="413.69" width="41.00" height="17.99" fill="#efff10"/><rect x="539.5" y="396.70" width="41.00" height="17.99" fill="#ffff00"/><rect x="539.5" y="379.71" width="41.00" height="17.99" fill="#ffef00"/><rect x="539.5" y="362.72" width="41.00" height="17.99" fill="#ffdf00"/><rect x="539.5" y="345.73" width="41.00" height="17.99" fill="#ffcf00"/><rect x="539.5" y="328.74" width="41.00" height="17.99" fill="#ffbf00"/><rect x="539.5" y="311.75" width="41.00" height="17.99" fill="#ffaf00"/><rect x="539.5" y="294.76" width="41.00" height="17.99" fill="#ff9f00"/><rect x="539.5" y="277.77" width="41.00" height="17.99" fill="#ff8f00"/><rect x="539.5" y="260.78" width="41.00" height="17.99" fill="#ff8000"/><rect x="539.5" y="243.79" width="41.00" height="17.99" fill="#ff7000"/><rect x="539.5" y="226.80" width="41.00" height="17.99" fill="#ff6000"/><rect x="539.5" y="209.81" width="41.00" height="17.99" fill="#ff5000"/><rect x="539.5" y="192.82" width="41.00" height="17.99" fill="#ff4000"/><rect x="539.5" y="175.83" width="41.00" height="17.99" fill="#ff3000"/><rect x="539.5" y="158.84" width="41.00" height="17.99" fill="#ff2000"/><rect x="539.5" y="141.85" width="41.00" height="17.99" fill="#ff1000"/><rect x="539.5" y="124.86" width="41.00" height="17.99" fill="#ff0000"/><rect x="539.5" y="107.87" width="41.00" height="17.99" fill="#ef0000"/><rect x="539.5" y="90.88" width="41.00" height="17.99" fill="#df0000"/><rect x="539.5" y="73.89" width="41.00" height="17.99" fill="#cf0000"/><rect x="539.5" y="56.90" width="41.00" height="17.99" fill="#bf0000"/>
<path d="M580.50 1076.30h-12.5M580.50 948.72h-12.5M580.50 821.14h-12.5M580.50 693.56h-12.5M580.50 565.97h-12.5M580.50 438.39h-12.5M580.50 310.81h-12.5M580.50 183.23h-12.5M580.50 55.65h-12.5" stroke="#262626" stroke-width="4" fill="none"/>
<rect x="539.5" y="55.65" width="41.00" height="1020.65" fill="none" stroke="#262626" stroke-width="4.3"/>
<text x="592.5" y="1089.5" font-size="33">0</text>
<text x="592.5" y="961.9" font-size="33">2</text>
<text x="592.5" y="834.3" font-size="33">4</text>
<text x="592.5" y="706.8" font-size="33">6</text>
<text x="592.5" y="579.2" font-size="33">8</text>
<text x="592.5" y="451.6" font-size="33">10</text>
<text x="592.5" y="324.0" font-size="33">12</text>
<text x="592.5" y="196.4" font-size="33">14</text>
<text x="592.5" y="68.8" font-size="33">16</text>
<text class="s" x="558.0" y="46.0" font-size="38" text-anchor="middle">δ</text>
<rect x="1107.6" y="1062.67" width="36.80" height="17.03" fill="#00008f"/><rect x="1107.6" y="1046.64" width="36.80" height="17.03" fill="#00009f"/><rect x="1107.6" y="1030.61" width="36.80" height="17.03" fill="#0000af"/><rect x="1107.6" y="1014.58" width="36.80" height="17.03" fill="#0000bf"/><rect x="1107.6" y="998.55" width="36.80" height="17.03" fill="#0000cf"/><rect x="1107.6" y="982.52" width="36.80" height="17.03" fill="#0000df"/><rect x="1107.6" y="966.49" width="36.80" height="17.03" fill="#0000ef"/><rect x="1107.6" y="950.46" width="36.80" height="17.03" fill="#0000ff"/><rect x="1107.6" y="934.43" width="36.80" height="17.03" fill="#0010ff"/><rect x="1107.6" y="918.40" width="36.80" height="17.03" fill="#0020ff"/><rect x="1107.6" y="902.37" width="36.80" height="17.03" fill="#0030ff"/><rect x="1107.6" y="886.34" width="36.80" height="17.03" fill="#0040ff"/><rect x="1107.6" y="870.31" width="36.80" height="17.03" fill="#0050ff"/><rect x="1107.6" y="854.28" width="36.80" height="17.03" fill="#0060ff"/><rect x="1107.6" y="838.25" width="36.80" height="17.03" fill="#0070ff"/><rect x="1107.6" y="822.22" width="36.80" height="17.03" fill="#0080ff"/><rect x="1107.6" y="806.19" width="36.80" height="17.03" fill="#008fff"/><rect x="1107.6" y="790.16" width="36.80" height="17.03" fill="#009fff"/><rect x="1107.6" y="774.13" width="36.80" height="17.03" fill="#00afff"/><rect x="1107.6" y="758.10" width="36.80" height="17.03" fill="#00bfff"/><rect x="1107.6" y="742.07" width="36.80" height="17.03" fill="#00cfff"/><rect x="1107.6" y="726.04" width="36.80" height="17.03" fill="#00dfff"/><rect x="1107.6" y="710.01" width="36.80" height="17.03" fill="#00efff"/><rect x="1107.6" y="693.98" width="36.80" height="17.03" fill="#00ffff"/><rect x="1107.6" y="677.95" width="36.80" height="17.03" fill="#10ffef"/><rect x="1107.6" y="661.92" width="36.80" height="17.03" fill="#20ffdf"/><rect x="1107.6" y="645.89" width="36.80" height="17.03" fill="#30ffcf"/><rect x="1107.6" y="629.86" width="36.80" height="17.03" fill="#40ffbf"/><rect x="1107.6" y="613.83" width="36.80" height="17.03" fill="#50ffaf"/><rect x="1107.6" y="597.80" width="36.80" height="17.03" fill="#60ff9f"/><rect x="1107.6" y="581.77" width="36.80" height="17.03" fill="#70ff8f"/><rect x="1107.6" y="565.74" width="36.80" height="17.03" fill="#80ff80"/><rect x="1107.6" y="549.71" width="36.80" height="17.03" fill="#8fff70"/><rect x="1107.6" y="533.68" width="36.80" height="17.03" fill="#9fff60"/><rect x="1107.6" y="517.65" width="36.80" height="17.03" fill="#afff50"/><rect x="1107.6" y="501.62" width="36.80" height="17.03" fill="#bfff40"/><rect x="1107.6" y="485.59" width="36.80" height="17.03" fill="#cfff30"/><rect x="1107.6" y="469.56" width="36.80" height="17.03" fill="#dfff20"/><rect x="1107.6" y="453.53" width="36.80" height="17.03" fill="#efff10"/><rect x="1107.6" y="437.50" width="36.80" height="17.03" fill="#ffff00"/><rect x="1107.6" y="421.47" width="36.80" height="17.03" fill="#ffef00"/><rect x="1107.6" y="405.44" width="36.80" height="17.03" fill="#ffdf00"/><rect x="1107.6" y="389.41" width="36.80" height="17.03" fill="#ffcf00"/><rect x="1107.6" y="373.38" width="36.80" height="17.03" fill="#ffbf00"/><rect x="1107.6" y="357.35" width="36.80" height="17.03" fill="#ffaf00"/><rect x="1107.6" y="341.32" width="36.80" height="17.03" fill="#ff9f00"/><rect x="1107.6" y="325.29" width="36.80" height="17.03" fill="#ff8f00"/><rect x="1107.6" y="309.26" width="36.80" height="17.03" fill="#ff8000"/><rect x="1107.6" y="293.23" width="36.80" height="17.03" fill="#ff7000"/><rect x="1107.6" y="277.20" width="36.80" height="17.03" fill="#ff6000"/><rect x="1107.6" y="261.17" width="36.80" height="17.03" fill="#ff5000"/><rect x="1107.6" y="245.14" width="36.80" height="17.03" fill="#ff4000"/><rect x="1107.6" y="229.11" width="36.80" height="17.03" fill="#ff3000"/><rect x="1107.6" y="213.08" width="36.80" height="17.03" fill="#ff2000"/><rect x="1107.6" y="197.05" width="36.80" height="17.03" fill="#ff1000"/><rect x="1107.6" y="181.02" width="36.80" height="17.03" fill="#ff0000"/><rect x="1107.6" y="164.99" width="36.80" height="17.03" fill="#ef0000"/><rect x="1107.6" y="148.96" width="36.80" height="17.03" fill="#df0000"/><rect x="1107.6" y="132.93" width="36.80" height="17.03" fill="#cf0000"/><rect x="1107.6" y="116.90" width="36.80" height="17.03" fill="#bf0000"/><rect x="1107.6" y="100.87" width="36.80" height="17.03" fill="#af0000"/><rect x="1107.6" y="84.84" width="36.80" height="17.03" fill="#9f0000"/><rect x="1107.6" y="68.81" width="36.80" height="17.03" fill="#8f0000"/><rect x="1107.6" y="55.70" width="36.80" height="14.11" fill="#800000"/>
<path d="M1144.40 1078.70h-12.5M1144.40 976.40h-12.5M1144.40 874.10h-12.5M1144.40 771.80h-12.5M1144.40 669.50h-12.5M1144.40 567.20h-12.5M1144.40 464.90h-12.5M1144.40 362.60h-12.5M1144.40 260.30h-12.5M1144.40 158.00h-12.5M1144.40 55.70h-12.5" stroke="#262626" stroke-width="4" fill="none"/>
<rect x="1107.6" y="55.7" width="36.80" height="1023.00" fill="none" stroke="#262626" stroke-width="4.3"/>
<text x="1156.4" y="1091.9" font-size="33">0</text>
<text x="1156.4" y="989.6" font-size="33">1</text>
<text x="1156.4" y="887.3" font-size="33">2</text>
<text x="1156.4" y="785.0" font-size="33">3</text>
<text x="1156.4" y="682.7" font-size="33">4</text>
<text x="1156.4" y="580.4" font-size="33">5</text>
<text x="1156.4" y="478.1" font-size="33">6</text>
<text x="1156.4" y="375.8" font-size="33">7</text>
<text x="1156.4" y="273.5" font-size="33">8</text>
<text x="1156.4" y="171.2" font-size="33">9</text>
<text x="1156.4" y="68.9" font-size="33">10</text>
<text class="s" x="1122.0" y="47.5" font-size="38" text-anchor="middle">δ</text>
<rect x="1658.7" y="1062.67" width="35.70" height="17.03" fill="#00008f"/><rect x="1658.7" y="1046.64" width="35.70" height="17.03" fill="#00009f"/><rect x="1658.7" y="1030.61" width="35.70" height="17.03" fill="#0000af"/><rect x="1658.7" y="1014.58" width="35.70" height="17.03" fill="#0000bf"/><rect x="1658.7" y="998.55" width="35.70" height="17.03" fill="#0000cf"/><rect x="1658.7" y="982.52" width="35.70" height="17.03" fill="#0000df"/><rect x="1658.7" y="966.49" width="35.70" height="17.03" fill="#0000ef"/><rect x="1658.7" y="950.46" width="35.70" height="17.03" fill="#0000ff"/><rect x="1658.7" y="934.43" width="35.70" height="17.03" fill="#0010ff"/><rect x="1658.7" y="918.40" width="35.70" height="17.03" fill="#0020ff"/><rect x="1658.7" y="902.37" width="35.70" height="17.03" fill="#0030ff"/><rect x="1658.7" y="886.34" width="35.70" height="17.03" fill="#0040ff"/><rect x="1658.7" y="870.31" width="35.70" height="17.03" fill="#0050ff"/><rect x="1658.7" y="854.28" width="35.70" height="17.03" fill="#0060ff"/><rect x="1658.7" y="838.25" width="35.70" height="17.03" fill="#0070ff"/><rect x="1658.7" y="822.22" width="35.70" height="17.03" fill="#0080ff"/><rect x="1658.7" y="806.19" width="35.70" height="17.03" fill="#008fff"/><rect x="1658.7" y="790.16" width="35.70" height="17.03" fill="#009fff"/><rect x="1658.7" y="774.13" width="35.70" height="17.03" fill="#00afff"/><rect x="1658.7" y="758.10" width="35.70" height="17.03" fill="#00bfff"/><rect x="1658.7" y="742.07" width="35.70" height="17.03" fill="#00cfff"/><rect x="1658.7" y="726.04" width="35.70" height="17.03" fill="#00dfff"/><rect x="1658.7" y="710.01" width="35.70" height="17.03" fill="#00efff"/><rect x="1658.7" y="693.98" width="35.70" height="17.03" fill="#00ffff"/><rect x="1658.7" y="677.95" width="35.70" height="17.03" fill="#10ffef"/><rect x="1658.7" y="661.92" width="35.70" height="17.03" fill="#20ffdf"/><rect x="1658.7" y="645.89" width="35.70" height="17.03" fill="#30ffcf"/><rect x="1658.7" y="629.86" width="35.70" height="17.03" fill="#40ffbf"/><rect x="1658.7" y="613.83" width="35.70" height="17.03" fill="#50ffaf"/><rect x="1658.7" y="597.80" width="35.70" height="17.03" fill="#60ff9f"/><rect x="1658.7" y="581.77" width="35.70" height="17.03" fill="#70ff8f"/><rect x="1658.7" y="565.74" width="35.70" height="17.03" fill="#80ff80"/><rect x="1658.7" y="549.71" width="35.70" height="17.03" fill="#8fff70"/><rect x="1658.7" y="533.68" width="35.70" height="17.03" fill="#9fff60"/><rect x="1658.7" y="517.65" width="35.70" height="17.03" fill="#afff50"/><rect x="1658.7" y="501.62" width="35.70" height="17.03" fill="#bfff40"/><rect x="1658.7" y="485.59" width="35.70" height="17.03" fill="#cfff30"/><rect x="1658.7" y="469.56" width="35.70" height="17.03" fill="#dfff20"/><rect x="1658.7" y="453.53" width="35.70" height="17.03" fill="#efff10"/><rect x="1658.7" y="437.50" width="35.70" height="17.03" fill="#ffff00"/><rect x="1658.7" y="421.47" width="35.70" height="17.03" fill="#ffef00"/><rect x="1658.7" y="405.44" width="35.70" height="17.03" fill="#ffdf00"/><rect x="1658.7" y="389.41" width="35.70" height="17.03" fill="#ffcf00"/><rect x="1658.7" y="373.38" width="35.70" height="17.03" fill="#ffbf00"/><rect x="1658.7" y="357.35" width="35.70" height="17.03" fill="#ffaf00"/><rect x="1658.7" y="341.32" width="35.70" height="17.03" fill="#ff9f00"/><rect x="1658.7" y="325.29" width="35.70" height="17.03" fill="#ff8f00"/><rect x="1658.7" y="309.26" width="35.70" height="17.03" fill="#ff8000"/><rect x="1658.7" y="293.23" width="35.70" height="17.03" fill="#ff7000"/><rect x="1658.7" y="277.20" width="35.70" height="17.03" fill="#ff6000"/><rect x="1658.7" y="261.17" width="35.70" height="17.03" fill="#ff5000"/><rect x="1658.7" y="245.14" width="35.70" height="17.03" fill="#ff4000"/><rect x="1658.7" y="229.11" width="35.70" height="17.03" fill="#ff3000"/><rect x="1658.7" y="213.08" width="35.70" height="17.03" fill="#ff2000"/><rect x="1658.7" y="197.05" width="35.70" height="17.03" fill="#ff1000"/><rect x="1658.7" y="181.02" width="35.70" height="17.03" fill="#ff0000"/><rect x="1658.7" y="164.99" width="35.70" height="17.03" fill="#ef0000"/><rect x="1658.7" y="148.96" width="35.70" height="17.03" fill="#df0000"/><rect x="1658.7" y="132.93" width="35.70" height="17.03" fill="#cf0000"/><rect x="1658.7" y="116.90" width="35.70" height="17.03" fill="#bf0000"/><rect x="1658.7" y="100.87" width="35.70" height="17.03" fill="#af0000"/><rect x="1658.7" y="84.84" width="35.70" height="17.03" fill="#9f0000"/><rect x="1658.7" y="68.81" width="35.70" height="17.03" fill="#8f0000"/><rect x="1658.7" y="55.70" width="35.70" height="14.11" fill="#800000"/>
<path d="M1694.40 1078.70h-12.5M1694.40 950.83h-12.5M1694.40 822.95h-12.5M1694.40 695.08h-12.5M1694.40 567.20h-12.5M1694.40 439.33h-12.5M1694.40 311.45h-12.5M1694.40 183.58h-12.5M1694.40 55.70h-12.5" stroke="#262626" stroke-width="4" fill="none"/>
<rect x="1658.7" y="55.7" width="35.70" height="1023.00" fill="none" stroke="#262626" stroke-width="4.3"/>
<text x="1706.4" y="1091.9" font-size="33">0</text>
<text x="1706.4" y="964.0" font-size="33">0.05</text>
<text x="1706.4" y="836.2" font-size="33">0.1</text>
<text x="1706.4" y="708.3" font-size="33">0.15</text>
<text x="1706.4" y="580.4" font-size="33">0.2</text>
<text x="1706.4" y="452.5" font-size="33">0.25</text>
<text x="1706.4" y="324.6" font-size="33">0.3</text>
<text x="1706.4" y="196.8" font-size="33">0.35</text>
<text x="1706.4" y="68.9" font-size="33">0.4</text>
<text class="s" x="1676.1" y="47.5" font-size="38" text-anchor="middle">δ</text>
<text x="310.9" y="41.2" font-size="36" text-anchor="middle">Oxygen <tspan dx="1.4">(O</tspan><tspan dy="-17" font-size="28">+</tspan><tspan dy="17" dx="2">)</tspan></text>
<text x="153.9" y="1122" font-size="33" text-anchor="middle">20</text>
<text x="258.5" y="1122" font-size="33" text-anchor="middle">40</text>
<text x="363.2" y="1122" font-size="33" text-anchor="middle">60</text>
<text x="467.8" y="1122" font-size="33" text-anchor="middle">80</text>
<text class="s" transform="translate(227.7,1174.5) scale(1.25,1)" x="0" y="0" font-size="35">α</text>
<text x="254.4" y="1192" font-size="30">eq</text>
<text x="302.7" y="1174" font-size="37.5">[Deg]</text>
<text x="879.0" y="41.2" font-size="36" text-anchor="middle">Proton <tspan dx="1.4">(H</tspan><tspan dy="-17" font-size="28">+</tspan><tspan dy="17" dx="2">)</tspan></text>
<text x="721.9" y="1122" font-size="33" text-anchor="middle">20</text>
<text x="826.6" y="1122" font-size="33" text-anchor="middle">40</text>
<text x="931.3" y="1122" font-size="33" text-anchor="middle">60</text>
<text x="1036.0" y="1122" font-size="33" text-anchor="middle">80</text>
<text class="s" transform="translate(795.8,1174.5) scale(1.25,1)" x="0" y="0" font-size="35">α</text>
<text x="822.5" y="1192" font-size="30">eq</text>
<text x="870.8" y="1174" font-size="37.5">[Deg]</text>
<text x="1432.8" y="41.2" font-size="36" text-anchor="middle">Electron <tspan dx="1.4">(e</tspan><tspan dy="-17" font-size="28">-</tspan><tspan dy="17" dx="2">)</tspan></text>
<text x="1275.9" y="1122" font-size="33" text-anchor="middle">20</text>
<text x="1380.5" y="1122" font-size="33" text-anchor="middle">40</text>
<text x="1485.0" y="1122" font-size="33" text-anchor="middle">60</text>
<text x="1589.6" y="1122" font-size="33" text-anchor="middle">80</text>
<text class="s" transform="translate(1349.5,1174.5) scale(1.25,1)" x="0" y="0" font-size="35">α</text>
<text x="1376.2" y="1192" font-size="30">eq</text>
<text x="1424.5" y="1174" font-size="37.5">[Deg]</text>
<text x="75.8" y="276.4" font-size="33" text-anchor="end">3</text>
<text x="75.8" y="217.2" font-size="33" text-anchor="end">4</text>
<text x="75.8" y="158.0" font-size="33" text-anchor="end">5</text>
<text x="75.8" y="98.8" font-size="33" text-anchor="end">6</text>
<text transform="translate(32.7,171.8) rotate(-90)" font-size="37.8" text-anchor="middle">L-shell</text>
<text x="75.8" y="537.9" font-size="33" text-anchor="end">3</text>
<text x="75.8" y="478.7" font-size="33" text-anchor="end">4</text>
<text x="75.8" y="419.5" font-size="33" text-anchor="end">5</text>
<text x="75.8" y="360.3" font-size="33" text-anchor="end">6</text>
<text transform="translate(32.7,433.3) rotate(-90)" font-size="37.8" text-anchor="middle">L-shell</text>
<text x="75.8" y="797.0" font-size="33" text-anchor="end">3</text>
<text x="75.8" y="737.9" font-size="33" text-anchor="end">4</text>
<text x="75.8" y="678.8" font-size="33" text-anchor="end">5</text>
<text x="75.8" y="619.7" font-size="33" text-anchor="end">6</text>
<text transform="translate(32.7,692.5) rotate(-90)" font-size="37.8" text-anchor="middle">L-shell</text>
<text x="75.8" y="1058.6" font-size="33" text-anchor="end">3</text>
<text x="75.8" y="999.5" font-size="33" text-anchor="end">4</text>
<text x="75.8" y="940.4" font-size="33" text-anchor="end">5</text>
<text x="75.8" y="881.3" font-size="33" text-anchor="end">6</text>
<text transform="translate(32.7,954.1) rotate(-90)" font-size="37.8" text-anchor="middle">L-shell</text>
<text transform="translate(467.2,98.5) scale(1.08,1)" font-size="41" fill="#fff">a</text>
<text transform="translate(125.3,265.5) scale(1.0228,1)" x="0" y="0" font-size="33" fill="#fff">E<tspan dy="16" font-size="26">k</tspan><tspan dy="-16">=5 MeV, </tspan><tspan class="s" dx="3">δ</tspan><tspan dy="16" font-size="26" dx="0.5">max</tspan><tspan dy="-16" dx="1">= </tspan><tspan letter-spacing="-1.3">15.4</tspan><tspan dy="-17" font-size="26">o</tspan></text>
<text transform="translate(1035.4,98.5) scale(1.08,1)" font-size="41" fill="#fff">b</text>
<text transform="translate(695.0,263.6) scale(1.0223,1)" x="0" y="0" font-size="33" fill="#fff">E<tspan dy="16" font-size="26">k</tspan><tspan dy="-16">=5 MeV, </tspan><tspan class="s" dx="3">δ</tspan><tspan dy="16" font-size="26" dx="0.5">max</tspan><tspan dy="-16" dx="1">= </tspan><tspan letter-spacing="-1.3">10.1</tspan><tspan dy="-17" font-size="26">o</tspan></text>
<text transform="translate(1589.0,98.5) scale(1.08,1)" font-size="41" fill="#fff">c</text>
<text transform="translate(1248.7,261.4) scale(1.0355,1)" x="0" y="0" font-size="33" fill="#fff">E<tspan dy="16" font-size="26">k</tspan><tspan dy="-16">=5 MeV, </tspan><tspan class="s" dx="3">δ</tspan><tspan dy="16" font-size="26" dx="0.5">max</tspan><tspan dy="-16" dx="1">= </tspan><tspan letter-spacing="-1.3">0.3</tspan><tspan dy="-17" font-size="26">o</tspan></text>
<text transform="translate(467.2,360.0) scale(1.08,1)" font-size="41" fill="#fff">d</text>
<text transform="translate(120.5,524.6) scale(1.0244,1)" x="0" y="0" font-size="33" fill="#fff">E<tspan dy="16" font-size="26">k</tspan><tspan dy="-16">=500 keV, </tspan><tspan class="s" dx="3">δ</tspan><tspan dy="16" font-size="26" dx="0.5">max</tspan><tspan dy="-16" dx="1">= </tspan><tspan letter-spacing="-1.3">12.1</tspan><tspan dy="-17" font-size="26">o</tspan></text>
<text transform="translate(1035.4,360.0) scale(1.08,1)" font-size="41" fill="#fff">e</text>
<text transform="translate(691.0,520.7) scale(1.0244,1)" x="0" y="0" font-size="33" fill="#fff">E<tspan dy="16" font-size="26">k</tspan><tspan dy="-16">=500 keV, </tspan><tspan class="s" dx="3">δ</tspan><tspan dy="16" font-size="26" dx="0.5">max</tspan><tspan dy="-16" dx="1">= </tspan><tspan letter-spacing="-1.3">3.6</tspan><tspan dy="-17" font-size="26">o</tspan></text>
<text transform="translate(1589.0,360.0) scale(1.08,1)" font-size="41" fill="#fff">f</text>
<text transform="translate(1247.1,524.6) scale(1.0244,1)" x="0" y="0" font-size="33" fill="#fff">E<tspan dy="16" font-size="26">k</tspan><tspan dy="-16">=500 keV, </tspan><tspan class="s" dx="3">δ</tspan><tspan dy="16" font-size="26" dx="0.5">max</tspan><tspan dy="-16" dx="1">= </tspan><tspan letter-spacing="-1.3">0.1</tspan><tspan dy="-17" font-size="26">o</tspan></text>
<text transform="translate(467.2,619.4) scale(1.08,1)" font-size="41" fill="#fff">g</text>
<text transform="translate(125.0,783.6) scale(1.0284,1)" x="0" y="0" font-size="33" fill="#fff">E<tspan dy="16" font-size="26">k</tspan><tspan dy="-16">=50 keV, </tspan><tspan class="s" dx="3">δ</tspan><tspan dy="16" font-size="26" dx="0.5">max</tspan><tspan dy="-16" dx="1">= </tspan><tspan letter-spacing="-1.3">4.3</tspan><tspan dy="-17" font-size="26">o</tspan></text>
<text transform="translate(1035.4,619.4) scale(1.08,1)" font-size="41" fill="#fff">h</text>
<text transform="translate(693.2,781.4) scale(1.0299,1)" x="0" y="0" font-size="33" fill="#fff">E<tspan dy="16" font-size="26">k</tspan><tspan dy="-16">=50 keV, </tspan><tspan class="s" dx="3">δ</tspan><tspan dy="16" font-size="26" dx="0.5">max</tspan><tspan dy="-16" dx="1">= </tspan><tspan letter-spacing="-1.3">1.2</tspan><tspan dy="-17" font-size="26">o</tspan></text>
<text transform="translate(1589.0,619.4) scale(1.08,1)" font-size="41" fill="#fff">i</text>
<text transform="translate(1247.2,783.2) scale(1.0193,1)" x="0" y="0" font-size="33" fill="#fff">E<tspan dy="16" font-size="26">k</tspan><tspan dy="-16">=50 keV, </tspan><tspan class="s" dx="3">δ</tspan><tspan dy="16" font-size="26" dx="0.5">max</tspan><tspan dy="-16" dx="1">= </tspan><tspan letter-spacing="-1.3">0.01</tspan><tspan dy="-17" font-size="26">o</tspan></text>
<text transform="translate(467.2,881.0) scale(1.08,1)" font-size="41" fill="#fff">j</text>
<text transform="translate(126.6,1041.4) scale(1.037,1)" x="0" y="0" font-size="33" fill="#fff">E<tspan dy="16" font-size="26">k</tspan><tspan dy="-16">=5 keV, </tspan><tspan class="s" dx="3">δ</tspan><tspan dy="16" font-size="26" dx="0.5">max</tspan><tspan dy="-16" dx="1">= </tspan><tspan letter-spacing="-1.3">1.5</tspan><tspan dy="-17" font-size="26">o</tspan></text>
<text transform="translate(1035.4,881.0) scale(1.08,1)" font-size="41" fill="#fff">k</text>
<text transform="translate(693.2,1043.2) scale(1.0367,1)" x="0" y="0" font-size="33" fill="#fff">E<tspan dy="16" font-size="26">k</tspan><tspan dy="-16">=5 keV, </tspan><tspan class="s" dx="3">δ</tspan><tspan dy="16" font-size="26" dx="0.5">max</tspan><tspan dy="-16" dx="1">= </tspan><tspan letter-spacing="-1.3">0.4</tspan><tspan dy="-17" font-size="26">o</tspan></text>
<text transform="translate(1589.0,881.0) scale(1.08,1)" font-size="41" fill="#fff">l</text>
<text transform="translate(1244.8,1039.1) scale(1.0284,1)" x="0" y="0" font-size="33" fill="#fff">E<tspan dy="16" font-size="26">k</tspan><tspan dy="-16">=5 keV, </tspan><tspan class="s" dx="3">δ</tspan><tspan dy="16" font-size="26" dx="0.5">max</tspan><tspan dy="-16" dx="1">= </tspan><tspan letter-spacing="-1.3">0.01</tspan><tspan dy="-17" font-size="26">o</tspan></text>
</svg></body></html>
